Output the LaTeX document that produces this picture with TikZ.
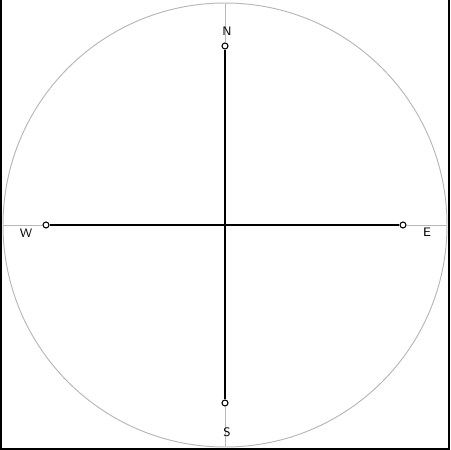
\documentclass[tikz,border=0pt]{standalone}
\usetikzlibrary{backgrounds,calc,positioning}
\tikzset{
    compass diagram/.style = {x=0.02cm, y=-0.02cm},
    rim/.style             = {draw=black!28, line width=0.55pt},
    guide/.style           = {draw=black!28, line width=0.55pt},
    arm/.style             = {draw=black, line width=0.6pt},
    tip/.style             = {draw, circle, fill=white, line width=0.6pt,
                              inner sep=0pt, minimum size=0.12cm},
    heading/.style         = {font=\sffamily\fontsize{7}{8}\selectfont,
                              inner sep=0pt},
    frame/.style           = {line width=1.2pt}
}

\begin{document}
\begin{tikzpicture}[compass diagram]
\useasboundingbox (0, 0) rectangle (450, 450);

% ================= Outer frame =================
\draw[frame] (0.6, 0) -- (0.6, 449.4) -- (449.4, 449.4) -- (449.4, 0);

% ================= Rim and centre =================
\coordinate (centre) at (225, 225);
\draw[rim] (centre) circle (222);
\coordinate (rimN) at (225, 3);
\coordinate (rimS) at (225, 447);
\coordinate (rimW) at (3, 225);
\coordinate (rimE) at (447, 225);

% ================= Tips =================
\node[tip] (tipN) at (225, 46) {};
\node[tip] (tipS) at (225, 403) {};
\node[tip] (tipW) at (46, 225) {};
\node[tip] (tipE) at (403, 225) {};

% ================= Headings =================
\node[heading] (labN) at (227, 31) {N};
\node[heading] (labS) at (227, 432) {S};
\node[heading] (labW) at (26, 233) {W};
\node[heading] (labE) at (427, 232) {E};

% ================= Arms =================
\begin{scope}[on background layer]
    \draw[guide] (rimN) -- (tipN);
    \draw[guide] (rimS) -- (tipS);
    \draw[guide] (rimW) -- (tipW);
    \draw[guide] (rimE) -- (tipE);
    \draw[arm] (centre) -- (tipN);
    \draw[arm] (centre) -- (tipS);
    \draw[arm] (centre) -- (tipW);
    \draw[arm] (centre) -- (tipE);
\end{scope}

\end{tikzpicture}
\end{document}
